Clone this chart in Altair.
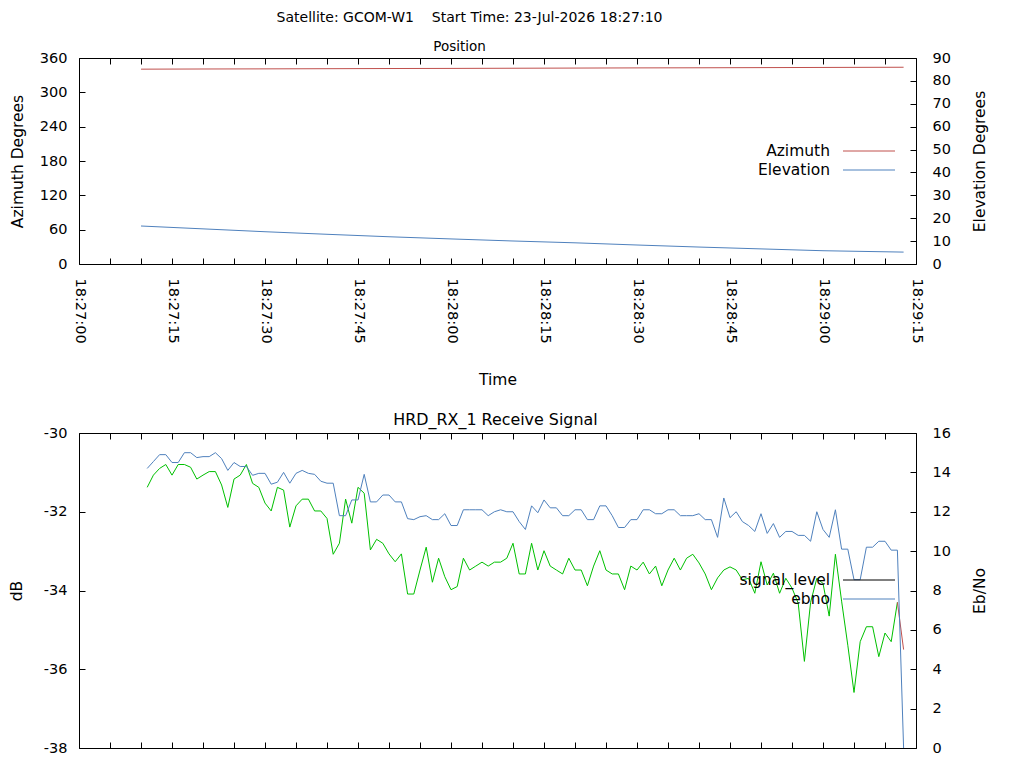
import altair as alt
import pandas as pd

FONT = "DejaVu Sans"
RED = "#c0504d"
BLUE = "#4f81bd"
GREEN = "#00c000"

# time axis is in seconds after 18:27:00
pos_seconds = [10, 20, 30, 40, 50, 60, 70, 80, 90, 100, 110, 120, 133]
azimuth = [340.5, 340.8, 341.0, 341.3, 341.6, 341.8, 342.1, 342.4, 342.7,
           342.9, 343.2, 343.5, 343.85]
elevation = [16.6, 15.35, 14.1, 12.98, 11.9, 10.95, 10.05, 9.25, 8.3, 7.4,
             6.6, 5.8, 5.2]

sig_seconds = list(range(11, 134))
signal_level = [
    -31.38, -31.07, -30.9, -30.8, -31.07, -30.8, -30.8, -30.87, -31.17, -31.07,
    -30.98, -30.98, -31.32, -31.89, -31.17, -31.07, -30.8, -31.28, -31.38, -31.78,
    -31.98, -31.38, -31.45, -32.39, -31.85, -31.68, -31.68, -31.98, -31.98, -32.17,
    -33.08, -32.8, -31.68, -32.29, -31.38, -31.53, -32.97, -32.7, -32.8, -33.07,
    -33.27, -33.07, -34.09, -34.09, -33.48, -32.9, -33.79, -33.18, -33.65, -33.98,
    -33.9, -33.18, -33.48, -33.38, -33.28, -33.38, -33.28, -33.28, -33.18, -32.8,
    -33.58, -33.58, -32.8, -33.48, -32.99, -33.38, -33.48, -33.58, -33.18, -33.48,
    -33.48, -33.88, -33.38, -32.99, -33.48, -33.58, -33.58, -33.98, -33.38, -33.48,
    -33.28, -33.58, -33.38, -33.88, -33.48, -33.18, -33.48, -33.18, -33.08, -33.3,
    -33.58, -33.98, -33.68, -33.48, -33.4, -33.48, -33.73, -33.69, -34.07, -33.27,
    -33.86, -33.56, -34.07, -33.69, -33.94, -34.32, -35.8, -34.3, -33.69, -33.82,
    -34.65, -33.08, -34.27, -35.39, -36.59, -35.3, -34.92, -34.92, -35.68, -35.08,
    -35.3, -34.3, -35.5,
]
ebno = [
    14.2, 14.55, 14.9, 14.9, 14.5, 14.5, 15.0, 15.0, 14.75, 14.8,
    14.8, 15.0, 14.7, 14.1, 14.5, 14.3, 14.3, 13.85, 13.95, 13.95,
    13.4, 13.5, 14.0, 13.45, 13.95, 14.1, 13.95, 13.9, 13.55, 13.45,
    13.45, 11.8, 11.8, 12.6, 12.6, 13.9, 12.5, 12.5, 12.85, 12.85,
    12.5, 12.5, 11.65, 11.6, 11.75, 11.8, 11.6, 11.6, 11.9, 11.3,
    11.3, 12.1, 12.1, 12.1, 12.1, 11.8, 12.0, 12.1, 12.0, 12.0,
    11.5, 11.1, 12.3, 11.95, 12.6, 12.2, 12.2, 11.8, 11.8, 12.1,
    12.1, 11.6, 11.6, 12.3, 12.3, 11.8, 11.2, 11.2, 11.6, 11.6,
    12.1, 12.1, 11.9, 11.9, 12.1, 12.1, 11.8, 11.8, 11.8, 11.9,
    11.6, 11.6, 10.7, 12.7, 11.7, 12.0, 11.5, 11.3, 11.0, 11.9,
    10.9, 11.4, 10.7, 11.0, 11.0, 10.8, 10.8, 10.5, 12.0, 11.1,
    10.7, 12.1, 10.1, 10.1, 8.55, 8.55, 10.2, 10.2, 10.5, 10.5,
    10.05, 10.05, 0.0,
]
lock_lost_at = 132  # last signal segment drawn red

pos_legend = ["Azimuth", "Elevation"]
pos_legend_colors = [RED, BLUE]
sig_legend = ["signal_level", "ebno"]
sig_legend_colors = ["black", BLUE]

x_ticks = list(range(0, 136, 5))
label_expr = (
    "datum.value % 15 ? '' : '18:' + (27 + floor(datum.value / 60)) + ':' + "
    "(datum.value % 60 < 10 ? '0' : '') + (datum.value % 60)"
)

W = 837
H_TOP = 206
H_BOT = 315
LABEL_SIZE = 14.5
TITLE_SIZE = 15.5

df_pos = pd.DataFrame({"sec": pos_seconds, "az": azimuth, "el": elevation})

rows = []
for s, v in zip(sig_seconds, signal_level):
    if s <= lock_lost_at:
        rows.append({"sec": s, "db": v, "state": "locked"})
    if s >= lock_lost_at:
        rows.append({"sec": s, "db": v, "state": "lost"})
df_sig = pd.DataFrame(rows)
df_ebno = pd.DataFrame({"sec": sig_seconds, "ebno": ebno})

x_scale = alt.Scale(domain=[0, 135], nice=False, zero=False)


def x_bottom(labels):
    if labels:
        return alt.Axis(
            orient="bottom", values=x_ticks, labelExpr=label_expr, labelAngle=90,
            labelAlign="left", labelBaseline="middle", labelPadding=14,
            tickSize=6, offset=-6, domain=False, grid=False, title="Time",
            titlePadding=29,
        )
    # lower panel: its time labels fall below the page
    return alt.Axis(orient="bottom", values=x_ticks, labels=False, tickSize=6,
                    offset=-6, domain=False, grid=False, title=None)


def x_top():
    return alt.Axis(
        orient="top", values=x_ticks, labels=False, tickSize=6, offset=-6,
        domain=False, grid=False, title=None,
    )


def y_axis(orient, values, title, pad, title_pad):
    extra = {"titleAngle": 270} if orient == "right" else {}
    return alt.Axis(
        orient=orient, values=values, tickSize=6, offset=-6, domain=False,
        grid=False, labelPadding=pad, labelExpr="'' + datum.value",
        title=title, titlePadding=title_pad, **extra,
    )


def legend_layers(labels, colors, rows_y):
    df = pd.DataFrame({"label": labels, "color": colors})
    y = alt.Y("label:N", sort=labels, axis=None,
              scale=alt.Scale(type="point", range=rows_y, padding=0))
    text = alt.Chart(df).mark_text(align="right", baseline="middle",
                                   font=FONT, fontSize=TITLE_SIZE,
                                   color="black").encode(
        x=alt.value(751), y=y, text="label:N")
    rule = alt.Chart(df).mark_rule(strokeWidth=1).encode(
        x=alt.value(764), x2=alt.value(816), y=y,
        color=alt.Color("color:N", scale=None))
    return text, rule


# Position panel
az_line = alt.Chart(df_pos).mark_line(color=RED, strokeWidth=1).encode(
    x=alt.X("sec:Q", scale=x_scale, axis=x_bottom(True)),
    y=alt.Y("az:Q", scale=alt.Scale(domain=[0, 360], nice=False),
            axis=y_axis("left", list(range(0, 361, 60)), "Azimuth Degrees", 12, 14)),
)
el_line = alt.Chart(df_pos).mark_line(color=BLUE, strokeWidth=1).encode(
    x=alt.X("sec:Q", scale=x_scale, axis=x_top()),
    y=alt.Y("el:Q", scale=alt.Scale(domain=[0, 90], nice=False),
            axis=y_axis("right", list(range(0, 91, 10)), "Elevation Degrees", 16, 37)),
)
pt, pr = legend_layers(pos_legend, pos_legend_colors, [93, 112])
top = (
    alt.layer(az_line, el_line, pt, pr)
    .resolve_scale(y="independent")
    .resolve_axis(x="independent")
    .properties(
        width=W, height=H_TOP,
        title=alt.TitleParams("Position", frame="group", dx=-38, offset=-3,
                              fontSize=13.5),
    )
)

# Receive signal panel
sig_line = alt.Chart(df_sig).mark_line(strokeWidth=1).encode(
    x=alt.X("sec:Q", scale=x_scale, axis=x_bottom(False)),
    y=alt.Y("db:Q", scale=alt.Scale(domain=[-38, -30], nice=False, zero=False),
            axis=y_axis("left", list(range(-38, -29, 2)), "dB", 12, 19)),
    color=alt.Color("state:N", legend=None,
                    scale=alt.Scale(domain=["locked", "lost"], range=[GREEN, RED])),
)
ebno_line = alt.Chart(df_ebno).mark_line(color=BLUE, strokeWidth=1).encode(
    x=alt.X("sec:Q", scale=x_scale, axis=x_top()),
    y=alt.Y("ebno:Q", scale=alt.Scale(domain=[0, 16], nice=False),
            axis=y_axis("right", list(range(0, 17, 2)), "Eb/No", 16, 37)),
)
st, sr = legend_layers(sig_legend, sig_legend_colors, [147, 166])
bottom = (
    alt.layer(sig_line, ebno_line, st, sr)
    .resolve_scale(y="independent")
    .resolve_axis(x="independent")
    .properties(
        width=W, height=H_BOT,
        title=alt.TitleParams("HRD_RX_1 Receive Signal", frame="group", dx=-2,
                              offset=-3, fontSize=15.9),
    )
)

chart = (
    alt.vconcat(top, bottom, spacing=22)
    .properties(
        title=alt.TitleParams(
            "Satellite: GCOM-W1\u00a0\u00a0\u00a0\u00a0Start Time: 23-Jul-2026 18:27:10",
            anchor="middle", frame="group", dx=-28, offset=14,
        ),
        padding={"left": 0, "top": 3, "right": 0, "bottom": 0},
    )
    .configure(font=FONT)
    .configure_view(stroke="black", strokeWidth=1)
    .configure_axis(
        labelFont=FONT, labelFontSize=LABEL_SIZE, labelColor="black",
        titleFont=FONT, titleFontSize=TITLE_SIZE, titleFontWeight="normal",
        titleColor="black", tickColor="black", tickWidth=1,
    )
    .configure_title(font=FONT, fontSize=14, fontWeight="normal", color="black")
)

chart.save("out.html", embed_options={"renderer": "svg", "actions": False})
